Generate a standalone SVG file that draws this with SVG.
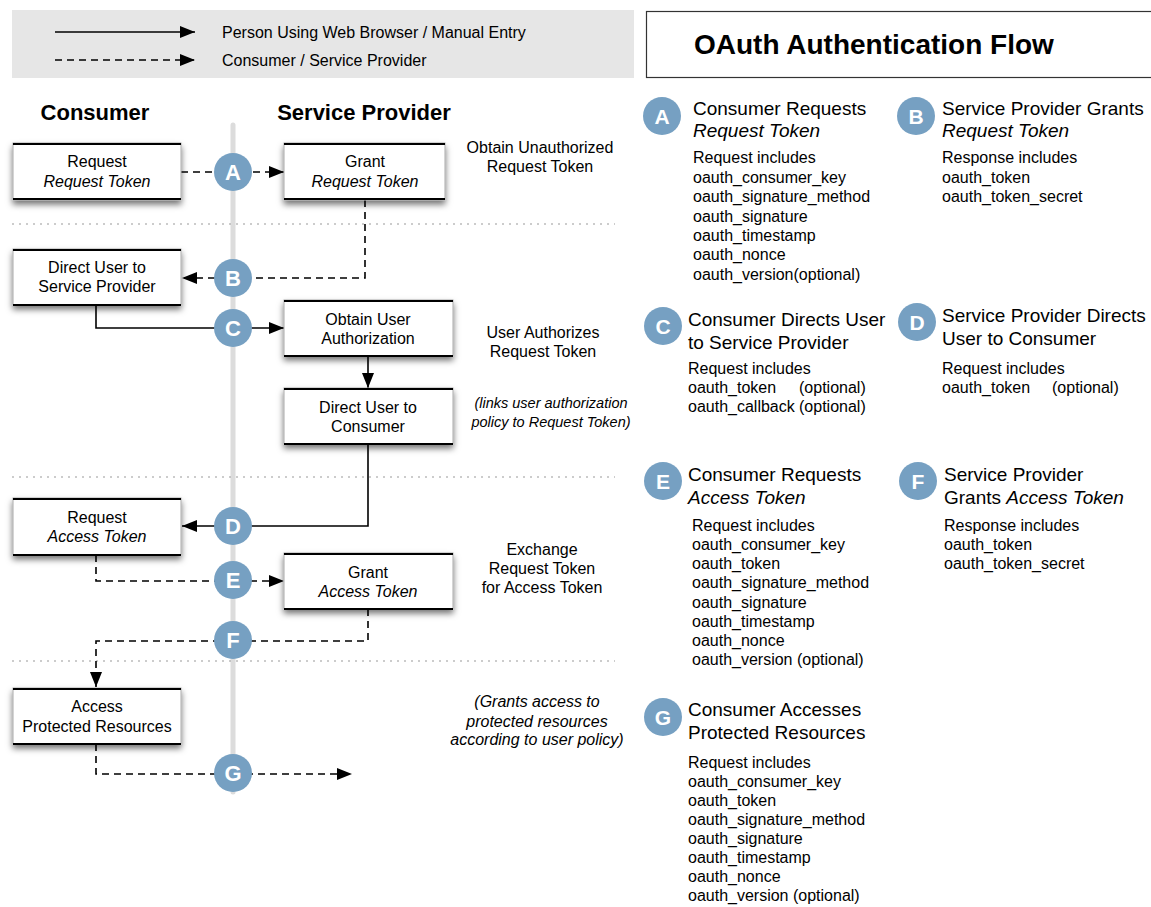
<svg xmlns="http://www.w3.org/2000/svg" width="1151" height="907" viewBox="0 0 1151 907">
<style>
text{font-family:"Liberation Sans",Arial,Helvetica,sans-serif;fill:#000}
.t16{font-size:16px}
.it{font-style:italic}
.c{text-anchor:middle}
.hdr{font-size:22px;font-weight:bold}
.ttl{font-size:19px}
.badge{fill:#76a0c2}
.bl{fill:#fff;font-weight:bold;text-anchor:middle}
.solid{fill:none;stroke:#000;stroke-width:1.6}
.dash{fill:none;stroke:#000;stroke-width:1.6;stroke-dasharray:7 5}
.sep{stroke:#9a9a9a;stroke-width:1.2;stroke-dasharray:2 5}
.boxr{fill:#fff;stroke:#aaa;stroke-width:1}
.edge{stroke:#000;stroke-width:2}
</style>
<defs>
<marker id="ah" markerUnits="userSpaceOnUse" markerWidth="16" markerHeight="14" viewBox="0 0 16 14" refX="15" refY="7" orient="auto">
<path d="M0,1 L15,7 L0,13 Z" fill="#000"/>
</marker>
<filter id="sh" x="-10%" y="-20%" width="120%" height="160%">
<feDropShadow dx="0" dy="4" stdDeviation="3" flood-color="#000" flood-opacity="0.55"/>
</filter>
</defs>

<g id="legend">
<rect x="12" y="10" width="622" height="68" fill="#e6e6e6"/>
<line x1="55" y1="32" x2="195" y2="32" class="solid" marker-end="url(#ah)"/>
<line x1="55" y1="60" x2="195" y2="60" class="dash" marker-end="url(#ah)"/>
<text x="222" y="38" class="t16">Person Using Web Browser / Manual Entry</text>
<text x="222" y="66" class="t16">Consumer / Service Provider</text>
</g>

<g id="title">
<rect x="646.5" y="11.5" width="510" height="66" fill="#fff" stroke="#333" stroke-width="1.2"/>
<text x="694" y="54" style="font-size:28px;font-weight:bold">OAuth Authentication Flow</text>
</g>

<g id="headers">
<text x="95" y="120" class="hdr c">Consumer</text>
<text x="364" y="120" class="hdr c">Service Provider</text>
</g>

<g id="lanes">
<line x1="233" y1="125" x2="233" y2="792" stroke="#dcdcdc" stroke-width="5" stroke-linecap="round"/>
<line x1="12" y1="224" x2="615" y2="224" class="sep"/>
<line x1="12" y1="477" x2="615" y2="477" class="sep"/>
<line x1="12" y1="661" x2="615" y2="661" class="sep"/>
</g>

<g id="connectors">
<line x1="181" y1="172" x2="284" y2="172" class="dash" marker-end="url(#ah)"/>
<polyline points="365,200 365,278 182,278" class="dash" marker-end="url(#ah)"/>
<polyline points="96,305 96,328 284,328" class="solid" marker-end="url(#ah)"/>
<line x1="368" y1="356" x2="368" y2="388" class="solid" marker-end="url(#ah)"/>
<polyline points="368,444 368,526 182,526" class="solid" marker-end="url(#ah)"/>
<polyline points="96,555 96,581 284,581" class="dash" marker-end="url(#ah)"/>
<polyline points="368,609 368,641 96,641 96,687" class="dash" marker-end="url(#ah)"/>
<polyline points="96,744 96,774 352,774" class="dash" marker-end="url(#ah)"/>
</g>

<g id="node-req-request-token">
<rect x="13" y="143" width="168" height="57" class="boxr" filter="url(#sh)"/>
<line x1="13" y1="144" x2="181" y2="144" class="edge"/><line x1="13" y1="199" x2="181" y2="199" class="edge"/>
<text x="97" y="167" class="t16 c">Request</text>
<text x="97" y="187" class="t16 c it">Request Token</text>
</g>
<g id="node-grant-request-token">
<rect x="284" y="143" width="161" height="57" class="boxr" filter="url(#sh)"/>
<line x1="284" y1="144" x2="445" y2="144" class="edge"/><line x1="284" y1="199" x2="445" y2="199" class="edge"/>
<text x="365" y="167" class="t16 c">Grant</text>
<text x="365" y="187" class="t16 c it">Request Token</text>
</g>
<g id="node-direct-user-sp">
<rect x="13" y="249" width="168" height="56" class="boxr" filter="url(#sh)"/>
<line x1="13" y1="250" x2="181" y2="250" class="edge"/><line x1="13" y1="305" x2="181" y2="305" class="edge"/>
<text x="97" y="273" class="t16 c">Direct User to</text>
<text x="97" y="292" class="t16 c">Service Provider</text>
</g>
<g id="node-obtain-auth">
<rect x="284" y="300" width="169" height="56" class="boxr" filter="url(#sh)"/>
<line x1="284" y1="301" x2="453" y2="301" class="edge"/><line x1="284" y1="356" x2="453" y2="356" class="edge"/>
<text x="368" y="325" class="t16 c">Obtain User</text>
<text x="368" y="344" class="t16 c">Authorization</text>
</g>
<g id="node-direct-user-consumer">
<rect x="284" y="388" width="169" height="56" class="boxr" filter="url(#sh)"/>
<line x1="284" y1="389" x2="453" y2="389" class="edge"/><line x1="284" y1="444" x2="453" y2="444" class="edge"/>
<text x="368" y="413" class="t16 c">Direct User to</text>
<text x="368" y="432" class="t16 c">Consumer</text>
</g>
<g id="node-req-access-token">
<rect x="13" y="498" width="168" height="57" class="boxr" filter="url(#sh)"/>
<line x1="13" y1="499" x2="181" y2="499" class="edge"/><line x1="13" y1="555" x2="181" y2="555" class="edge"/>
<text x="97" y="523" class="t16 c">Request</text>
<text x="97" y="542" class="t16 c it">Access Token</text>
</g>
<g id="node-grant-access-token">
<rect x="284" y="553" width="169" height="56" class="boxr" filter="url(#sh)"/>
<line x1="284" y1="554" x2="453" y2="554" class="edge"/><line x1="284" y1="609" x2="453" y2="609" class="edge"/>
<text x="368" y="578" class="t16 c">Grant</text>
<text x="368" y="597" class="t16 c it">Access Token</text>
</g>
<g id="node-access-resources">
<rect x="13" y="688" width="168" height="56" class="boxr" filter="url(#sh)"/>
<line x1="13" y1="689" x2="181" y2="689" class="edge"/><line x1="13" y1="744" x2="181" y2="744" class="edge"/>
<text x="97" y="712" class="t16 c">Access</text>
<text x="97" y="732" class="t16 c">Protected Resources</text>
</g>

<g id="badges-flow">
<circle cx="233" cy="172" r="19" class="badge"/><text x="233" y="180" class="bl" font-size="22">A</text>
<circle cx="233" cy="278" r="19" class="badge"/><text x="233" y="286" class="bl" font-size="22">B</text>
<circle cx="233" cy="328" r="19" class="badge"/><text x="233" y="336" class="bl" font-size="22">C</text>
<circle cx="233" cy="526" r="19" class="badge"/><text x="233" y="534" class="bl" font-size="22">D</text>
<circle cx="233" cy="580" r="19" class="badge"/><text x="233" y="588" class="bl" font-size="22">E</text>
<circle cx="233" cy="640" r="19" class="badge"/><text x="233" y="648" class="bl" font-size="22">F</text>
<circle cx="233" cy="773" r="19" class="badge"/><text x="233" y="781" class="bl" font-size="22">G</text>
</g>

<g id="annotations">
<text x="540" y="153" class="t16 c">Obtain Unauthorized</text>
<text x="540" y="172" class="t16 c">Request Token</text>
<text x="543" y="338" class="t16 c">User Authorizes</text>
<text x="543" y="357" class="t16 c">Request Token</text>
<text x="551" y="408" class="c it" font-size="14.5">(links user authorization</text>
<text x="551" y="427" class="c it" font-size="14.5">policy to Request Token)</text>
<text x="542" y="555" class="t16 c">Exchange</text>
<text x="542" y="574" class="t16 c">Request Token</text>
<text x="542" y="593" class="t16 c">for Access Token</text>
<text x="537" y="707" class="t16 c it">(Grants access to</text>
<text x="537" y="727" class="t16 c it">protected resources</text>
<text x="537" y="745" class="t16 c it">according to user policy)</text>
</g>

<g id="step-A">
<circle cx="662" cy="116" r="19" class="badge"/><text x="662" y="124" class="bl" font-size="21">A</text>
<text x="693" y="115" class="ttl">Consumer Requests</text>
<text x="693" y="137" class="ttl it">Request Token</text>
<text class="t16" x="693" y="163">Request includes</text>
<text class="t16" x="693" y="183">oauth_consumer_key</text>
<text class="t16" x="693" y="202">oauth_signature_method</text>
<text class="t16" x="693" y="222">oauth_signature</text>
<text class="t16" x="693" y="241">oauth_timestamp</text>
<text class="t16" x="693" y="260">oauth_nonce</text>
<text class="t16" x="693" y="280">oauth_version(optional)</text>
</g>
<g id="step-B">
<circle cx="916" cy="116" r="19" class="badge"/><text x="916" y="124" class="bl" font-size="21">B</text>
<text x="942" y="115" class="ttl">Service Provider Grants</text>
<text x="942" y="137" class="ttl it">Request Token</text>
<text class="t16" x="942" y="163">Response includes</text>
<text class="t16" x="942" y="183">oauth_token</text>
<text class="t16" x="942" y="202">oauth_token_secret</text>
</g>
<g id="step-C">
<circle cx="663" cy="326" r="19" class="badge"/><text x="663" y="334" class="bl" font-size="21">C</text>
<text x="688" y="326" class="ttl">Consumer Directs User</text>
<text x="688" y="349" class="ttl">to Service Provider</text>
<text class="t16" x="688" y="374">Request includes</text>
<text class="t16" x="688" y="393">oauth_token</text><text class="t16" x="799" y="393">(optional)</text>
<text class="t16" x="688" y="412">oauth_callback</text><text class="t16" x="799" y="412">(optional)</text>
</g>
<g id="step-D">
<circle cx="917" cy="322" r="19" class="badge"/><text x="917" y="330" class="bl" font-size="21">D</text>
<text x="942" y="322" class="ttl">Service Provider Directs</text>
<text x="942" y="345" class="ttl">User to Consumer</text>
<text class="t16" x="942" y="374">Request includes</text>
<text class="t16" x="942" y="393">oauth_token</text><text class="t16" x="1052" y="393">(optional)</text>
</g>
<g id="step-E">
<circle cx="663" cy="481" r="19" class="badge"/><text x="663" y="489" class="bl" font-size="21">E</text>
<text x="688" y="481" class="ttl">Consumer Requests</text>
<text x="688" y="504" class="ttl it">Access Token</text>
<text class="t16" x="692" y="531">Request includes</text>
<text class="t16" x="692" y="550">oauth_consumer_key</text>
<text class="t16" x="692" y="569">oauth_token</text>
<text class="t16" x="692" y="588">oauth_signature_method</text>
<text class="t16" x="692" y="608">oauth_signature</text>
<text class="t16" x="692" y="627">oauth_timestamp</text>
<text class="t16" x="692" y="646">oauth_nonce</text>
<text class="t16" x="692" y="665">oauth_version (optional)</text>
</g>
<g id="step-F">
<circle cx="918" cy="481" r="19" class="badge"/><text x="918" y="489" class="bl" font-size="21">F</text>
<text x="944" y="481" class="ttl">Service Provider</text>
<text x="944" y="504" class="ttl">Grants <tspan class="it">Access Token</tspan></text>
<text class="t16" x="944" y="531">Response includes</text>
<text class="t16" x="944" y="550">oauth_token</text>
<text class="t16" x="944" y="569">oauth_token_secret</text>
</g>
<g id="step-G">
<circle cx="663" cy="717" r="19" class="badge"/><text x="663" y="725" class="bl" font-size="21">G</text>
<text x="688" y="716" class="ttl">Consumer Accesses</text>
<text x="688" y="739" class="ttl">Protected Resources</text>
<text class="t16" x="688" y="768">Request includes</text>
<text class="t16" x="688" y="787">oauth_consumer_key</text>
<text class="t16" x="688" y="806">oauth_token</text>
<text class="t16" x="688" y="825">oauth_signature_method</text>
<text class="t16" x="688" y="844">oauth_signature</text>
<text class="t16" x="688" y="863">oauth_timestamp</text>
<text class="t16" x="688" y="882">oauth_nonce</text>
<text class="t16" x="688" y="901">oauth_version (optional)</text>
</g>
</svg>
